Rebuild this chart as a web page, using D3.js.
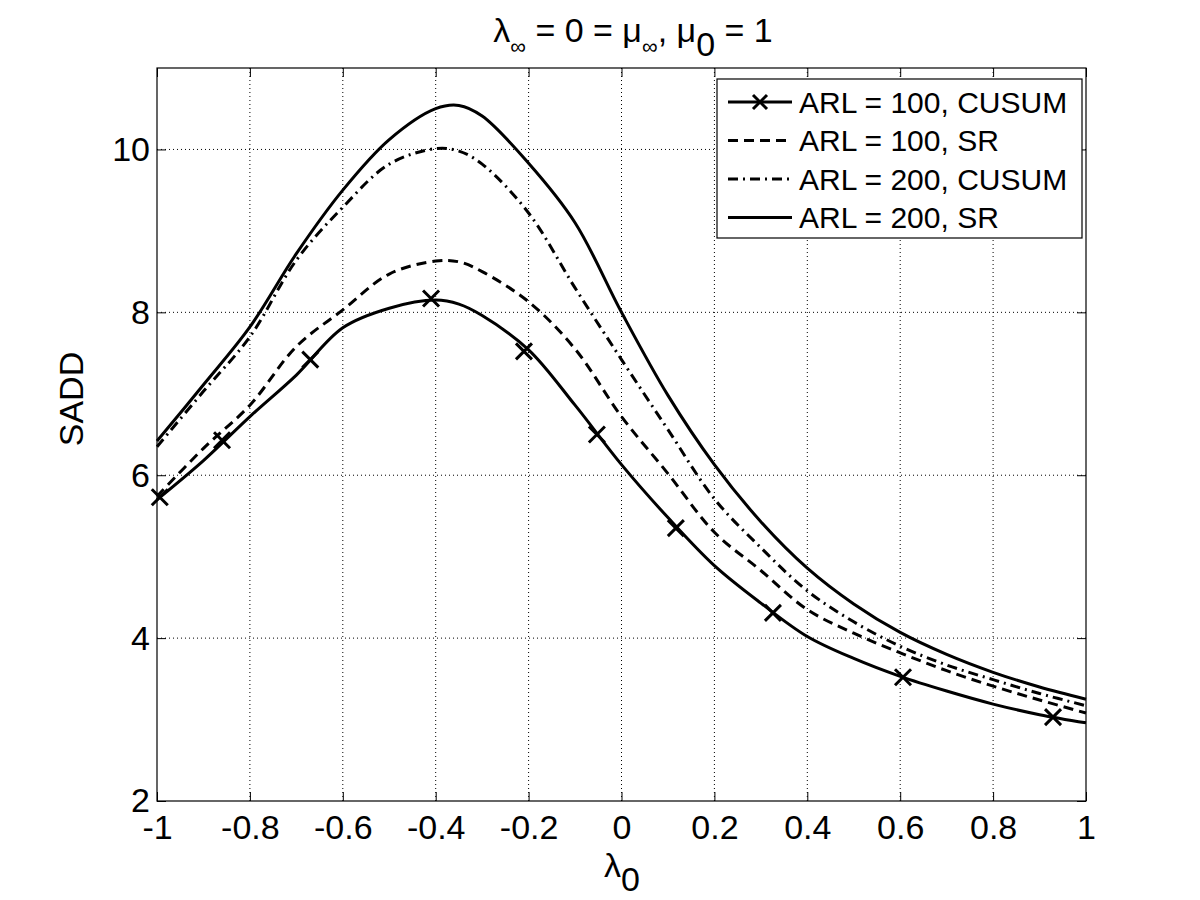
<!DOCTYPE html>
<html>
<head>
<meta charset="utf-8">
<script src="https://cdn.jsdelivr.net/npm/d3@7"></script>
<style>
  body { margin: 0; background: #fff; }
  svg text { font-family: 'Liberation Sans', Arial, sans-serif; fill: #000; }
</style>
</head>
<body>
<div id="container"></div>
<script>
// lambda_0 sample positions
const lambda0 = [-1, -0.9, -0.8, -0.7, -0.6, -0.5, -0.4, -0.35, -0.3, -0.2, -0.1, 0, 0.1, 0.2, 0.3, 0.4, 0.5, 0.6, 0.7, 0.8, 0.9, 1];

// SADD for each detector
const cusum100 = [5.70, 6.18, 6.72, 7.23, 7.81, 8.05, 8.15, 8.10, 7.96, 7.54, 6.86, 6.13, 5.48, 4.89, 4.43, 4.02, 3.75, 3.53, 3.35, 3.19, 3.06, 2.96];
const sr100    = [5.74, 6.33, 6.86, 7.58, 8.03, 8.47, 8.63, 8.62, 8.50, 8.13, 7.55, 6.72, 6.02, 5.30, 4.83, 4.35, 4.06, 3.82, 3.60, 3.41, 3.24, 3.08];
const cusum200 = [6.35, 7.03, 7.70, 8.64, 9.29, 9.82, 10.01, 9.98, 9.82, 9.22, 8.30, 7.42, 6.56, 5.71, 5.11, 4.58, 4.20, 3.90, 3.67, 3.49, 3.32, 3.17];
const sr200    = [6.42, 7.11, 7.82, 8.72, 9.50, 10.12, 10.50, 10.54, 10.41, 9.83, 9.10, 8.00, 6.98, 6.13, 5.43, 4.86, 4.42, 4.07, 3.80, 3.58, 3.40, 3.25];

// x markers on the ARL = 100, CUSUM curve
const markerX = [-0.994, -0.86, -0.67, -0.41, -0.21, -0.053, 0.117, 0.326, 0.606, 0.929];
const markerY = [5.73, 6.43, 7.42, 8.17, 7.52, 6.50, 5.35, 4.31, 3.52, 3.03];

const xTicks = [-1, -0.8, -0.6, -0.4, -0.2, 0, 0.2, 0.4, 0.6, 0.8, 1];
const yTicks = [2, 4, 6, 8, 10];

const legendLabels = ['ARL = 100, CUSUM', 'ARL = 100, SR', 'ARL = 200, CUSUM', 'ARL = 200, SR'];

const width = 1200;
const height = 900;
const plotLeft = 157, plotRight = 1086, plotTop = 68, plotBottom = 801;
const font = 'Liberation Sans, Arial, sans-serif';

const svg = d3.select('#container')
  .append('svg')
  .attr('width', width)
  .attr('height', height);

const xScale = d3.scaleLinear().domain([-1, 1]).range([plotLeft, plotRight]);
const yScale = d3.scaleLinear().domain([2, 11]).range([plotBottom, plotTop]);

// grid
const grid = svg.append('g');
grid.selectAll('.gx')
  .data(xTicks.slice(1, -1))
  .enter()
  .append('line')
  .attr('x1', (d) => xScale(d)).attr('x2', (d) => xScale(d))
  .attr('y1', plotTop).attr('y2', plotBottom)
  .attr('stroke', '#000').attr('stroke-width', 1)
  .attr('stroke-dasharray', '1,3');
grid.selectAll('.gy')
  .data(yTicks.slice(1))
  .enter()
  .append('line')
  .attr('x1', plotLeft).attr('x2', plotRight)
  .attr('y1', (d) => yScale(d)).attr('y2', (d) => yScale(d))
  .attr('stroke', '#000').attr('stroke-width', 1)
  .attr('stroke-dasharray', '1,3');

// axes (inward ticks on all four sides, matlab style)
const tickLen = 9;
svg.append('g')
  .attr('transform', `translate(0,${plotBottom})`)
  .call(d3.axisBottom(xScale).tickValues(xTicks).tickSize(-tickLen).tickPadding(14)
    .tickFormat((d) => String(d)))
  .call((g) => g.select('.domain').remove())
  .call((g) => g.selectAll('text').attr('font-size', 34).attr('font-family', font));
svg.append('g')
  .attr('transform', `translate(0,${plotTop})`)
  .call(d3.axisTop(xScale).tickValues(xTicks).tickSize(-tickLen).tickFormat(''))
  .call((g) => g.select('.domain').remove());
svg.append('g')
  .attr('transform', `translate(${plotLeft},0)`)
  .call(d3.axisLeft(yScale).tickValues(yTicks).tickSize(-tickLen).tickPadding(7))
  .call((g) => g.select('.domain').remove())
  .call((g) => g.selectAll('text').attr('font-size', 34).attr('font-family', font));
svg.append('g')
  .attr('transform', `translate(${plotRight},0)`)
  .call(d3.axisRight(yScale).tickValues(yTicks).tickSize(-tickLen).tickFormat(''))
  .call((g) => g.select('.domain').remove());
svg.selectAll('.tick line').attr('stroke', '#000');

svg.append('rect')
  .attr('x', plotLeft).attr('y', plotTop)
  .attr('width', plotRight - plotLeft).attr('height', plotBottom - plotTop)
  .attr('fill', 'none').attr('stroke', '#000').attr('stroke-width', 1.2);

// curves
const series = [
  { values: cusum100, dash: null },
  { values: sr100, dash: '10,6' },
  { values: cusum200, dash: '10,5,2,5' },
  { values: sr200, dash: null },
];
const lineGen = d3.line()
  .x((d) => xScale(d[0]))
  .y((d) => yScale(d[1]))
  .curve(d3.curveCatmullRom.alpha(0.5));

const plot = svg.append('g');
series.forEach((s) => {
  plot.append('path')
    .datum(lambda0.map((x, i) => [x, s.values[i]]))
    .attr('fill', 'none')
    .attr('stroke', '#000')
    .attr('stroke-width', 3)
    .attr('stroke-dasharray', s.dash)
    .attr('d', lineGen);
});

const xMark = (g, size) => {
  g.append('path')
    .attr('d', `M${-size},${-size}L${size},${size}M${-size},${size}L${size},${-size}`)
    .attr('stroke', '#000')
    .attr('stroke-width', 3)
    .attr('fill', 'none');
};
markerX.forEach((x, i) => {
  const g = plot.append('g').attr('transform', `translate(${xScale(x)},${yScale(markerY[i])})`);
  xMark(g, 8);
});

// legend
const legend = svg.append('g');
legend.append('rect')
  .attr('x', 717).attr('y', 79)
  .attr('width', 365).attr('height', 159)
  .attr('fill', '#fff').attr('stroke', '#000').attr('stroke-width', 1.2);
legendLabels.forEach((label, i) => {
  const y = 102 + i * 38.5;
  legend.append('line')
    .attr('x1', 728).attr('x2', 792)
    .attr('y1', y).attr('y2', y)
    .attr('stroke', '#000').attr('stroke-width', 3)
    .attr('stroke-dasharray', series[i].dash);
  if (i === 0) {
    xMark(legend.append('g').attr('transform', `translate(760,${y})`), 7);
  }
  legend.append('text')
    .attr('x', 799).attr('y', y)
    .attr('dy', '0.36em')
    .attr('font-size', 30)
    .text(label);
});

// title: lambda_inf = 0 = mu_inf, mu_0 = 1
const title = svg.append('text')
  .attr('x', 633)
  .attr('y', 42)
  .attr('text-anchor', 'middle')
  .attr('font-size', 34);
title.append('tspan').text('\u03bb');
title.append('tspan').attr('font-size', 22).attr('dy', 12).text('\u221e');
title.append('tspan').attr('dy', -12).text(' = 0 = \u03bc');
title.append('tspan').attr('font-size', 22).attr('dy', 12).text('\u221e');
title.append('tspan').attr('dy', -12).text(', \u03bc');
title.append('tspan').attr('dy', 14).text('0');
title.append('tspan').attr('dy', -14).text(' = 1');

// axis labels
const xl = svg.append('text')
  .attr('x', 622)
  .attr('y', 877)
  .attr('text-anchor', 'middle')
  .attr('font-size', 34);
xl.append('tspan').text('\u03bb');
xl.append('tspan').attr('dy', 14).text('0');

svg.append('text')
  .attr('transform', 'translate(83,399) rotate(-90)')
  .attr('text-anchor', 'middle')
  .attr('font-size', 34)
  .text('SADD');
</script>
</body>
</html>
